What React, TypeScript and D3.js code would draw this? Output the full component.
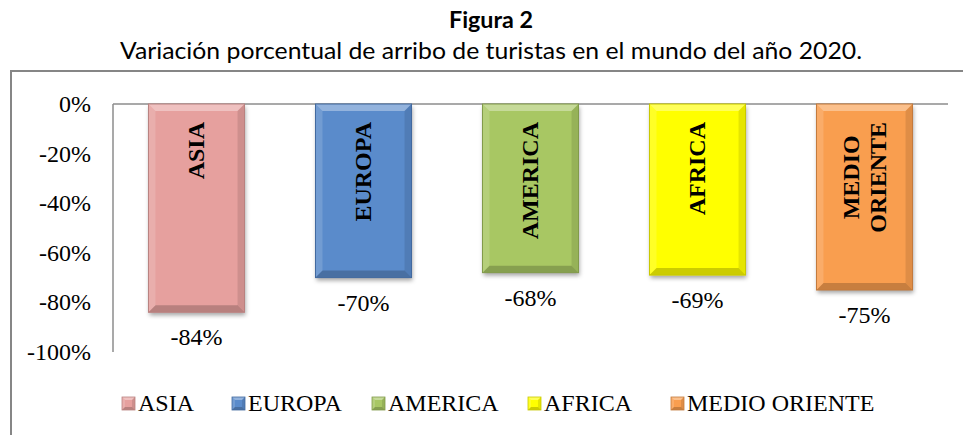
import React, { useEffect, useRef } from "react";
import * as d3 from "d3";

const categories = ["ASIA", "EUROPA", "AMERICA", "AFRICA", "MEDIO ORIENTE"];
const values = [-84, -70, -68, -69, -75];
const barLabelLines = [["ASIA"], ["EUROPA"], ["AMERICA"], ["AFRICA"], ["MEDIO", "ORIENTE"]];
const colors = ["#E6A09E", "#5A8BCB", "#A8C764", "#FFFF00", "#F99E4F"];
const strokes = ["#B98280", "#41699E", "#819A4A", "#C8C800", "#C47A3C"];
const yTicks = [0, -20, -40, -60, -80, -100];
const titleText = "Figura 2";
const subtitleText = "Variación porcentual de arribo de turistas en el mundo del año 2020.";

const W = 963;
const H = 435;
const SERIF = "'Liberation Serif', 'Times New Roman', Times, serif";
const SANS = "Lato, 'Open Sans', sans-serif";

function bevel(g: any, x: number, y: number, w: number, h: number, b: number) {
  const polys: [number, number][][] = [
    [[x, y], [x + w, y], [x + w - b, y + b], [x + b, y + b]],
    [[x, y], [x + b, y + b], [x + b, y + h - b], [x, y + h]],
    [[x + w, y], [x + w, y + h], [x + w - b, y + h - b], [x + w - b, y + b]],
    [[x, y + h], [x + b, y + h - b], [x + w - b, y + h - b], [x + w, y + h]],
  ];
  const fills = ["#fff", "#fff", "#000", "#000"];
  const ops = [0.35, 0.15, 0.1, 0.2];
  polys.forEach((p, i) => {
    g.append("polygon")
      .attr("points", p.map((q) => q.join(",")).join(" "))
      .attr("fill", fills[i])
      .attr("fill-opacity", ops[i]);
  });
}

export default function App() {
  const ref = useRef<SVGSVGElement | null>(null);

  useEffect(() => {
    const svg = d3.select(ref.current);
    svg.selectAll("*").remove();

    const defs = svg.append("defs");
    const f = defs.append("filter").attr("id", "shadow").attr("x", "-20%").attr("y", "-20%").attr("width", "140%").attr("height", "140%");
    f.append("feDropShadow").attr("dx", 1).attr("dy", 3).attr("stdDeviation", 2).attr("flood-color", "#000").attr("flood-opacity", 0.35);

    svg.append("rect").attr("width", W).attr("height", H).attr("fill", "#fff");

    // Titles
    svg.append("text")
      .attr("x", 491).attr("y", 28)
      .attr("text-anchor", "middle")
      .attr("font-family", SANS)
      .attr("font-weight", "bold")
      .attr("font-size", 23)
      .attr("textLength", 84)
      .attr("lengthAdjust", "spacingAndGlyphs")
      .attr("fill", "#000")
      .text(titleText);
    svg.append("text")
      .attr("x", 491).attr("y", 59)
      .attr("text-anchor", "middle")
      .attr("font-family", SANS)
      .attr("font-size", 24)
      .attr("textLength", 742)
      .attr("lengthAdjust", "spacingAndGlyphs")
      .attr("fill", "#000")
      .text(subtitleText);

    // Chart border
    svg.append("path")
      .attr("d", `M11,${H + 5} L11,71 L${W + 5},71`)
      .attr("fill", "none")
      .attr("stroke", "#868686")
      .attr("stroke-width", 2);

    const left = 113, right = 948, top = 104, bottom = 352;
    const x = d3.scaleBand<string>().domain(categories).range([left, right]).paddingInner(0.425).paddingOuter(0.2125);
    const y = d3.scaleLinear().domain([0, -100]).range([top, bottom]);

    // axes lines
    svg.append("line").attr("x1", left).attr("x2", right).attr("y1", y(0)).attr("y2", y(0)).attr("stroke", "#8C8C8C").attr("stroke-width", 1.5);
    svg.append("line").attr("x1", left).attr("x2", left).attr("y1", top).attr("y2", bottom).attr("stroke", "#8C8C8C").attr("stroke-width", 1.5);

    // y tick labels
    svg.append("g").selectAll("text").data(yTicks).join("text")
      .attr("x", 91)
      .attr("y", (d) => y(d))
      .attr("dy", "0.33em")
      .attr("text-anchor", "end")
      .attr("font-family", SERIF)
      .attr("font-size", 24)
      .attr("fill", "#000")
      .text((d) => `${d}%`);

    // Bars
    categories.forEach((c, i) => {
      const bx = x(c)!;
      const bw = x.bandwidth();
      const by = y(0);
      const bh = y(values[i]) - y(0);
      const g = svg.append("g");
      const sg = g.append("g").attr("filter", "url(#shadow)");
      sg.append("rect").attr("x", bx).attr("y", by).attr("width", bw).attr("height", bh).attr("fill", colors[i]);
      bevel(g, bx, by, bw, bh, 7);
      g.append("rect").attr("x", bx).attr("y", by).attr("width", bw).attr("height", bh)
        .attr("fill", "none").attr("stroke", strokes[i]).attr("stroke-width", 1);

      // inside label (rotated)
      const cx = bx + bw / 2;
      const lines = barLabelLines[i];
      const lg = g.append("g");
      const lineGap = 27.5;
      const texts: any[] = [];
      lines.forEach((ln, k) => {
        const off = (k - (lines.length - 1) / 2) * lineGap;
        const t = lg.append("text")
          .attr("text-anchor", "middle")
          .attr("font-family", SERIF)
          .attr("font-weight", "bold")
          .attr("font-size", 24)
          .attr("fill", "#000")
          .attr("dy", "0.33em")
          .text(ln);
        texts.push({ t, off });
      });
      let maxLen = 0;
      texts.forEach(({ t }) => {
        const n = (t.node() as SVGTextElement).getComputedTextLength();
        if (n > maxLen) maxLen = n;
      });
      const cy = by + 18 + maxLen / 2;
      texts.forEach(({ t, off }) => {
        t.attr("transform", `translate(${cx + off},${cy}) rotate(-90)`);
      });

      // value label
      svg.append("text")
        .attr("x", cx)
        .attr("y", y(values[i]) + 33)
        .attr("text-anchor", "middle")
        .attr("font-family", SERIF)
        .attr("font-size", 24)
        .attr("fill", "#000")
        .text(`${values[i]}%`);
    });

    // Legend
    const legendStarts = [122, 232, 372, 528, 671];
    const ly = 403.5;
    categories.forEach((c, i) => {
      const lx = legendStarts[i];
      const g = svg.append("g");
      g.append("rect").attr("x", lx).attr("y", ly - 6.5).attr("width", 13).attr("height", 13).attr("fill", colors[i]);
      bevel(g, lx, ly - 6.5, 13, 13, 3);
      g.append("rect").attr("x", lx).attr("y", ly - 6.5).attr("width", 13).attr("height", 13).attr("fill", "none").attr("stroke", strokes[i]).attr("stroke-width", 0.8);
      g.append("text")
        .attr("x", lx + 16)
        .attr("y", ly)
        .attr("dy", "0.33em")
        .attr("font-family", SERIF)
        .attr("font-size", 24)
        .attr("fill", "#000")
        .text(c);
    });
  }, []);

  return (
    <>
      <style>{`body{margin:0;}`}</style>
      <svg ref={ref} width={W} height={H} style={{ display: "block" }} />
    </>
  );
}
